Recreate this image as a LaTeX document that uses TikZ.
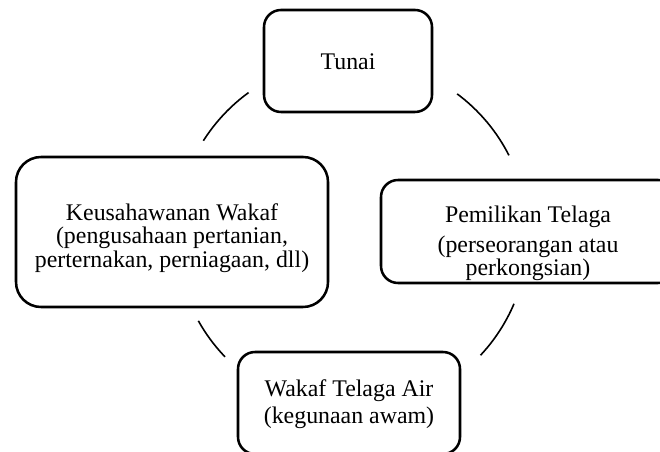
\documentclass[tikz,border=0pt]{standalone}
\usepackage{fontspec}
\setmainfont{Liberation Serif}
\begin{document}
\begin{tikzpicture}[x=0.75pt,y=-0.75pt,
  box/.style={draw=black, line width=1.9pt, inner sep=0pt},
  lbl/.style={align=center, inner sep=0pt, font=\fontsize{17.9}{17.4}\selectfont},
  arcline/.style={draw=black, line width=1.2pt}]
\useasboundingbox (0,0) rectangle (660,452);
\clip (0,0) rectangle (660,452);
% boxes
\node[box, minimum width=126pt, minimum height=76.5pt, rounded corners=12.75pt] (tunai) at (348,61) {};
\node[lbl] (tunaiT) at (348,62) {Tunai};
\node[box, minimum width=234pt, minimum height=112.5pt, rounded corners=18.75pt] (keus) at (172,232) {};
\node[lbl] (keusT) at (172,238) {Keusahawanan Wakaf\\(pengusahaan pertanian,\\perternakan, perniagaan, dll)};
\node[box, minimum width=220.5pt, minimum height=77.25pt, rounded corners=12.75pt] (pemi) at (528,231.5) {};
\node[lbl, font=\fontsize{17.9}{17.25}\selectfont] (pemiT) at (528,243) {Pemilikan Telaga\\[5.25pt](perseorangan atau\\perkongsian)};
\node[box, minimum width=166.5pt, minimum height=76.5pt, rounded corners=12.75pt] (wakaf) at (349,403) {};
\node[lbl] (wakafT) at (349,404) {Wakaf Telaga Air\\[3pt](kegunaan awam)};
% connecting arcs
\coordinate (cc) at (352,235);
\draw[arcline] ([shift={(234:176)}]cc) arc[start angle=234, end angle=212.4, radius=176];
\draw[arcline] ([shift={(306.7:176)}]cc) arc[start angle=306.7, end angle=333.1, radius=176];
\draw[arcline] ([shift={(23:176)}]cc) arc[start angle=23, end angle=43.1, radius=176];
\draw[arcline] ([shift={(136.2:176)}]cc) arc[start angle=136.2, end angle=150.8, radius=176];
\end{tikzpicture}
\end{document}
